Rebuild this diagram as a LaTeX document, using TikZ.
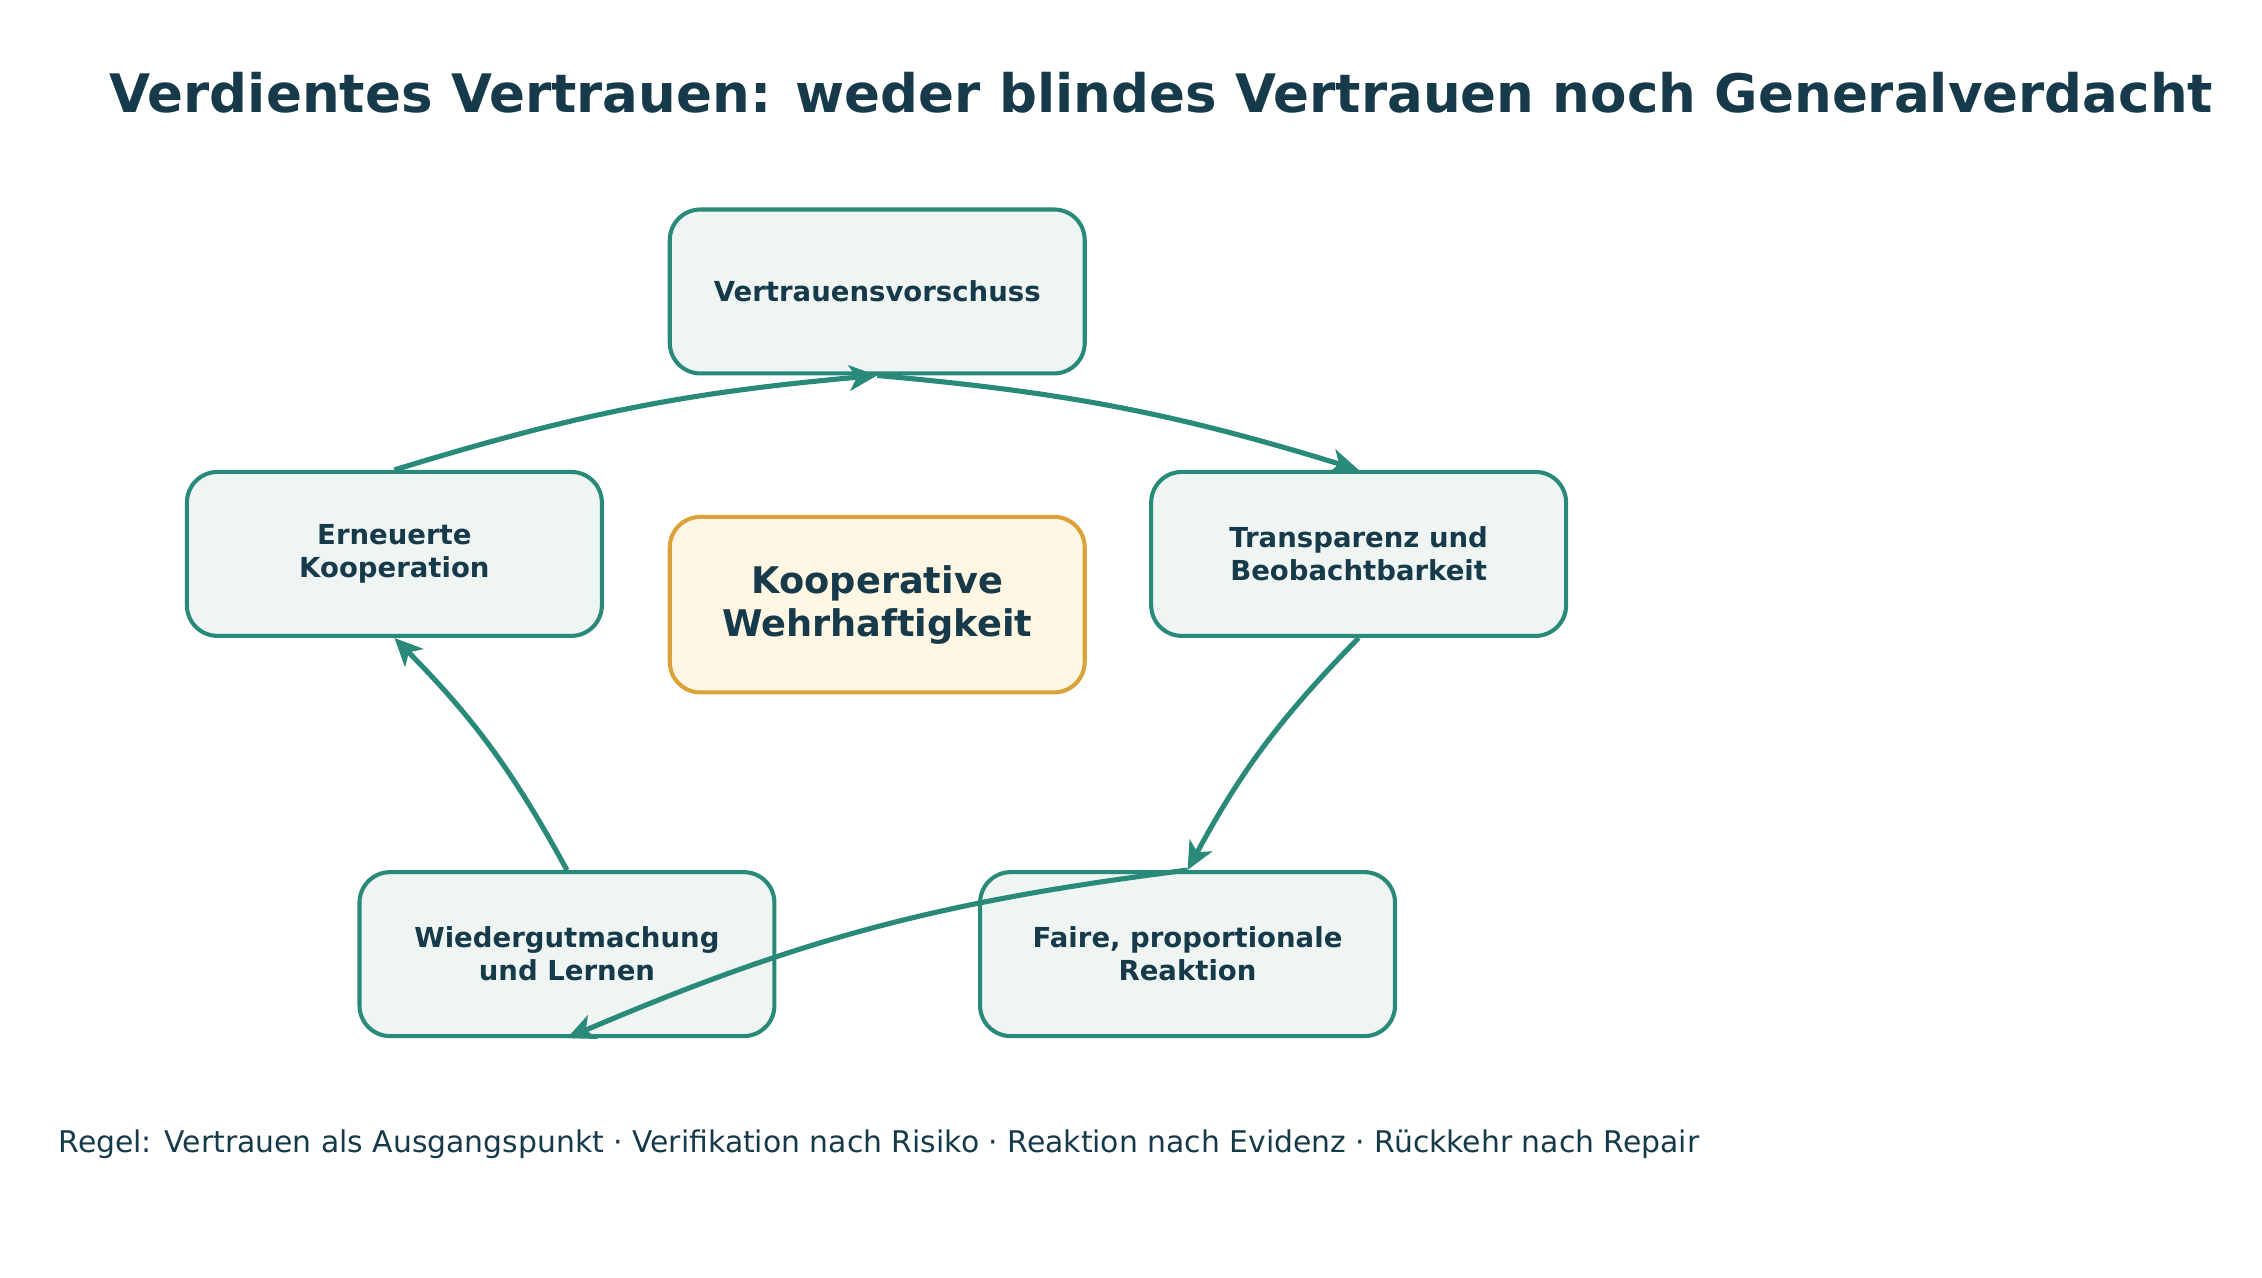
\documentclass[tikz,border=0pt]{standalone}
\usepackage{fontspec}
\setmainfont{DejaVu Sans}
\usetikzlibrary{arrows.meta}
\definecolor{teal1}{HTML}{2A8A7A}
\definecolor{boxf}{HTML}{EEF5F3}
\definecolor{txt}{HTML}{163A4A}
\definecolor{goldb}{HTML}{D9A23A}
\definecolor{goldf}{HTML}{FFF6E3}
\begin{document}
\begin{tikzpicture}[x=0.01cm,y=-0.01cm,
 box/.style={draw=teal1,fill=boxf,line width=0.8pt,rounded corners=6pt,minimum width=2.86cm,minimum height=1.13cm,align=center,text=txt,font=\fontsize{5.4}{6.5}\selectfont\bfseries},
 arr/.style={draw=teal1,line width=1pt,-{Stealth[length=5.5pt,width=5pt,inset=1.5pt]}}]
\useasboundingbox (0,0) rectangle (1560,881);
\node[text=txt,font=\fontsize{10.4}{13}\selectfont\bfseries] (title) at (801,64) {Verdientes Vertrauen: weder blindes Vertrauen noch Generalverdacht};
\node[box] (top) at (605,201) {Vertrauensvorschuss};
\node[box] (left) at (272,382) {Erneuerte\\Kooperation};
\node[box] (right) at (937,382) {Transparenz und\\Beobachtbarkeit};
\node[box] (bl) at (391,658) {Wiedergutmachung\\und Lernen};
\node[box] (br) at (819,658) {Faire, proportionale\\Reaktion};
\node[box,draw=goldb,fill=goldf,minimum height=1.21cm,font=\fontsize{7.2}{8.4}\selectfont\bfseries] (c) at (605,417) {Kooperative\\Wehrhaftigkeit};
\node[anchor=west,text=txt,font=\fontsize{5.85}{7}\selectfont] (foot) at (28,789) {Regel: Vertrauen als Ausgangspunkt · Verifikation nach Risiko · Reaktion nach Evidenz · Rückkehr nach Repair};
\draw[arr] (left.north) to[bend left=6] (top.south);
\draw[arr] (top.south) to[bend left=6] (right.north);
\draw[arr] (right.south) to[bend right=8] (br.north);
\draw[arr] (br.north) to[bend right=8] (bl.south);
\draw[arr] (bl.north) to[bend right=8] (left.south);
\end{tikzpicture}
\end{document}
